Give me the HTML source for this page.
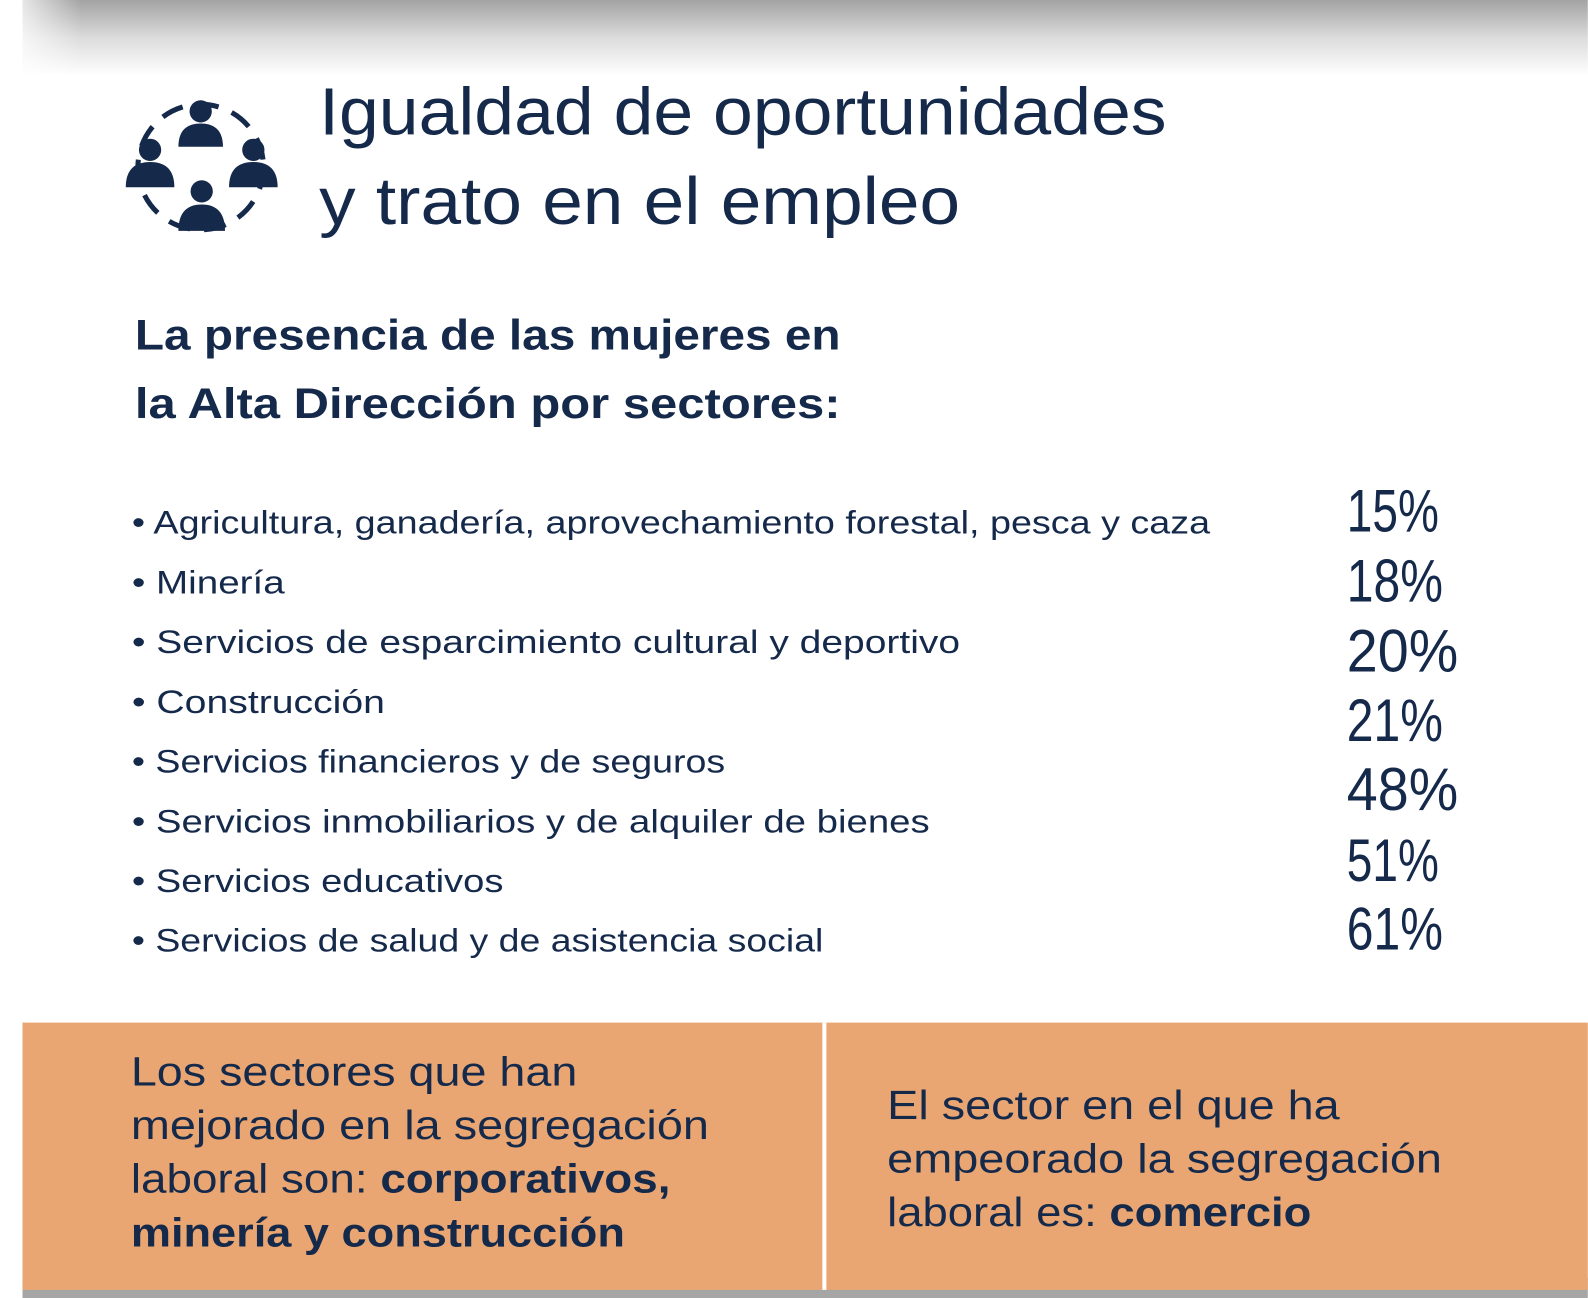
<!DOCTYPE html>
<html><head><meta charset="utf-8"><style>
html,body{margin:0;padding:0;background:#fff;width:1588px;height:1298px;overflow:hidden}
svg{display:block}
text{font-family:"Liberation Sans",sans-serif;fill:#15294b}
</style></head><body>
<svg width="1588" height="1298" viewBox="0 0 1568 1282" xmlns="http://www.w3.org/2000/svg">
<defs>
<linearGradient id="tg" x1="0" y1="0" x2="0" y2="1">
<stop offset="0" stop-color="#a3a3a3"/><stop offset="0.5" stop-color="#dcdcdc"/><stop offset="1" stop-color="#ffffff"/>
</linearGradient>
<linearGradient id="lg" x1="0" y1="0" x2="1" y2="0">
<stop offset="0" stop-color="#fff" stop-opacity="1"/><stop offset="1" stop-color="#fff" stop-opacity="0"/>
</linearGradient>
</defs>
<rect x="22" y="0" width="1546" height="75" fill="url(#tg)"/>
<rect x="0" y="0" width="80" height="80" fill="url(#lg)"/>
<rect x="22" y="1262" width="1546" height="20" fill="#a6a6a6"/>
<rect x="22" y="1010" width="1546" height="264" fill="#e9a672"/>
<rect x="812" y="1010" width="4" height="264" fill="#fff"/>

<!-- icon -->
<g fill="#15294b">
<circle cx="198" cy="165" r="62" fill="none" stroke="#15294b" stroke-width="5" stroke-dasharray="22 14"/>
<circle cx="198" cy="110" r="11"/><path d="M176 145 Q176 122 198 122 Q220 122 220 145 Z"/>
<circle cx="148" cy="148" r="11"/><path d="M124 185 Q124 160 148 160 Q172 160 172 185 Z"/>
<circle cx="250" cy="148" r="11"/><path d="M226 185 Q226 160 250 160 Q274 160 274 185 Z"/>
<circle cx="199" cy="189" r="11"/><path d="M176 228 Q176 202 199 202 Q222 202 222 228 Z"/>
</g>

<text x="315" y="133" font-size="66" textLength="837" lengthAdjust="spacingAndGlyphs">Igualdad de oportunidades</text>
<text x="315" y="221" font-size="66" textLength="633" lengthAdjust="spacingAndGlyphs">y trato en el empleo</text>

<text x="133" y="345" font-size="42" font-weight="bold" textLength="697" lengthAdjust="spacingAndGlyphs">La presencia de las mujeres en</text>
<text x="133" y="413" font-size="42" font-weight="bold" textLength="697" lengthAdjust="spacingAndGlyphs">la Alta Dirección por sectores:</text>

<g font-size="32">
<text x="130" y="527" textLength="1065" lengthAdjust="spacingAndGlyphs">• Agricultura, ganadería, aprovechamiento forestal, pesca y caza</text>
<text x="130" y="586" textLength="151" lengthAdjust="spacingAndGlyphs">• Minería</text>
<text x="130" y="645" textLength="818" lengthAdjust="spacingAndGlyphs">• Servicios de esparcimiento cultural y deportivo</text>
<text x="130" y="704" textLength="250" lengthAdjust="spacingAndGlyphs">• Construcción</text>
<text x="130" y="763" textLength="586" lengthAdjust="spacingAndGlyphs">• Servicios financieros y de seguros</text>
<text x="130" y="822" textLength="788" lengthAdjust="spacingAndGlyphs">• Servicios inmobiliarios y de alquiler de bienes</text>
<text x="130" y="881" textLength="367" lengthAdjust="spacingAndGlyphs">• Servicios educativos</text>
<text x="130" y="940" textLength="683" lengthAdjust="spacingAndGlyphs">• Servicios de salud y de asistencia social</text>
</g>

<g font-size="60">
<text x="1330" y="525" textLength="91" lengthAdjust="spacingAndGlyphs">15%</text>
<text x="1330" y="594" textLength="95" lengthAdjust="spacingAndGlyphs">18%</text>
<text x="1330" y="663" textLength="110" lengthAdjust="spacingAndGlyphs">20%</text>
<text x="1330" y="732" textLength="95" lengthAdjust="spacingAndGlyphs">21%</text>
<text x="1330" y="800" textLength="110" lengthAdjust="spacingAndGlyphs">48%</text>
<text x="1330" y="870" textLength="91" lengthAdjust="spacingAndGlyphs">51%</text>
<text x="1330" y="938" textLength="95" lengthAdjust="spacingAndGlyphs">61%</text>
</g>

<g font-size="40">
<text x="129" y="1072" textLength="441" lengthAdjust="spacingAndGlyphs">Los sectores que han</text>
<text x="129" y="1125" textLength="571" lengthAdjust="spacingAndGlyphs">mejorado en la segregación</text>
<text x="129" y="1178" textLength="533" lengthAdjust="spacingAndGlyphs">laboral son: <tspan font-weight="bold">corporativos,</tspan></text>
<text x="129" y="1231" font-weight="bold" textLength="488" lengthAdjust="spacingAndGlyphs">minería y construcción</text>
<text x="876" y="1105" textLength="447" lengthAdjust="spacingAndGlyphs">El sector en el que ha</text>
<text x="876" y="1158" textLength="548" lengthAdjust="spacingAndGlyphs">empeorado la segregación</text>
<text x="876" y="1211" textLength="419" lengthAdjust="spacingAndGlyphs">laboral es: <tspan font-weight="bold">comercio</tspan></text>
</g>
</svg>
</body></html>
